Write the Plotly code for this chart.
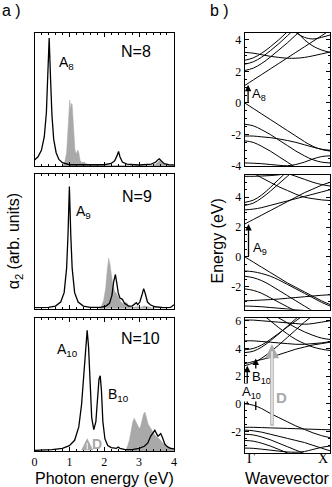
import plotly.graph_objects as go

# ---- panel a: absorption spectra (photon energy in eV, alpha_2 in arb. units) ----
e8_black = [0.00, 0.10, 0.20, 0.28, 0.34, 0.38, 0.42, 0.46, 0.50, 0.55, 0.62, 0.70, 0.80, 1.00, 1.50, 2.00,
            2.20, 2.30, 2.37, 2.41, 2.45, 2.52, 2.65, 3.00, 3.35, 3.48, 3.55, 3.58, 3.63, 3.72, 3.85, 4.00]
a8_black = [0.045, 0.07, 0.12, 0.22, 0.40, 0.65, 0.96, 0.65, 0.38, 0.20, 0.10, 0.05, 0.025, 0.01, 0.008, 0.01,
            0.02, 0.04, 0.08, 0.11, 0.07, 0.03, 0.015, 0.008, 0.015, 0.03, 0.05, 0.055, 0.04, 0.018, 0.01, 0.008]
e8_grey = [0.80, 0.86, 0.92, 0.96, 0.99, 1.01, 1.03, 1.05, 1.08, 1.10, 1.13, 1.16, 1.20, 1.24, 1.27, 1.31,
           1.36, 1.42, 1.47, 1.55, 1.70, 2.00, 2.30, 3.40, 3.50, 3.58, 3.66, 3.75, 4.00]
a8_grey = [0.0, 0.02, 0.10, 0.30, 0.46, 0.495, 0.42, 0.47, 0.46, 0.35, 0.20, 0.12, 0.09, 0.12, 0.10, 0.04,
           0.025, 0.03, 0.02, 0.01, 0.008, 0.005, 0.004, 0.004, 0.02, 0.04, 0.02, 0.004, 0.0]

e9_black = [0.00, 0.40, 0.60, 0.75, 0.85, 0.92, 0.96, 1.00, 1.04, 1.08, 1.15, 1.25, 1.40, 1.60, 1.90, 2.05,
            2.15, 2.22, 2.27, 2.32, 2.36, 2.40, 2.45, 2.52, 2.58, 2.70, 2.80, 2.88, 2.92, 2.96, 3.02, 3.08,
            3.13, 3.18, 3.24, 3.32, 3.45, 3.70, 3.90, 4.00]
a9_black = [0.008, 0.01, 0.02, 0.05, 0.12, 0.30, 0.55, 0.91, 0.55, 0.30, 0.12, 0.05, 0.02, 0.01, 0.01, 0.02,
            0.04, 0.10, 0.20, 0.255, 0.19, 0.12, 0.08, 0.07, 0.04, 0.02, 0.02, 0.04, 0.045, 0.03, 0.05, 0.10,
            0.15, 0.11, 0.05, 0.03, 0.015, 0.008, 0.01, 0.03]
e9_grey = [1.85, 1.92, 1.98, 2.04, 2.09, 2.13, 2.17, 2.21, 2.25, 2.30, 2.36, 2.42, 2.48, 2.55, 2.62, 2.66,
           2.72, 2.80, 2.95, 3.05, 3.15, 3.25, 3.35, 3.45]
a9_grey = [0.0, 0.02, 0.06, 0.15, 0.30, 0.375, 0.32, 0.22, 0.17, 0.13, 0.11, 0.08, 0.05, 0.035, 0.05, 0.04,
           0.015, 0.01, 0.015, 0.01, 0.02, 0.015, 0.005, 0.0]

e10_black = [0.00, 0.50, 0.80, 1.00, 1.15, 1.27, 1.35, 1.42, 1.47, 1.51, 1.55, 1.59, 1.64, 1.70, 1.76, 1.81,
             1.85, 1.885, 1.92, 1.96, 2.02, 2.10, 2.20, 2.35, 2.40, 2.45, 2.60, 2.80, 3.00, 3.15, 3.25, 3.33,
             3.40, 3.45, 3.50, 3.54, 3.58, 3.62, 3.67, 3.74, 3.82, 3.90, 4.00]
a10_black = [0.005, 0.01, 0.02, 0.04, 0.08, 0.18, 0.35, 0.60, 0.82, 0.905, 0.78, 0.50, 0.25, 0.16, 0.22, 0.40,
             0.54, 0.563, 0.45, 0.22, 0.09, 0.04, 0.025, 0.02, 0.03, 0.02, 0.01, 0.01, 0.02, 0.035, 0.06, 0.11,
             0.14, 0.155, 0.13, 0.11, 0.12, 0.13, 0.10, 0.05, 0.03, 0.02, 0.015]
e10_grey = [2.60, 2.66, 2.72, 2.77, 2.82, 2.86, 2.90, 2.95, 3.00, 3.04, 3.09, 3.13, 3.17, 3.21, 3.26, 3.31,
            3.37, 3.45, 3.52, 3.60, 3.69, 3.78, 3.88, 4.00]
a10_grey = [0.0, 0.03, 0.08, 0.16, 0.22, 0.245, 0.22, 0.19, 0.17, 0.18, 0.24, 0.28, 0.29, 0.25, 0.20, 0.18,
            0.15, 0.12, 0.10, 0.085, 0.055, 0.035, 0.025, 0.02]

# ---- panel b: band structures (Gamma -> X), energies in eV ----
k = [0.0, 0.1, 0.2, 0.3, 0.4, 0.5, 0.6, 0.7, 0.8, 0.9, 1.0]

bands_n8 = [
    [1.10, 1.45, 1.80, 2.15, 2.50, 2.85, 3.20, 3.55, 3.90, 4.25, 4.60],
    [3.20, 3.15, 3.05, 2.95, 2.88, 2.83, 2.83, 2.88, 2.98, 3.10, 3.22],
    [2.70, 2.85, 3.15, 3.55, 4.00, 4.50, 5.00, 5.50, 6.00, 6.50, 7.00],
    [2.45, 2.60, 2.90, 3.30, 3.75, 4.25, 4.75, 5.25, 5.75, 6.25, 6.75],
    [2.05, 2.20, 2.50, 2.90, 3.35, 3.80, 4.30, 4.80, 5.30, 5.80, 6.30],
    [6.00, 5.80, 5.60, 5.40, 5.20, 4.95, 4.55, 4.00, 3.60, 3.35, 3.20],
    [None, None, None, None, None, None, 4.45, 4.15, 4.05, 4.15, 4.30],
    [0.00, -0.35, -0.70, -1.05, -1.40, -1.75, -2.10, -2.45, -2.75, -2.95, -3.05],
    [-1.35, -1.45, -1.70, -2.00, -2.35, -2.70, -3.05, -3.35, -3.60, -3.75, -3.80],
    [-2.10, -2.10, -2.15, -2.20, -2.28, -2.38, -2.50, -2.65, -2.80, -2.93, -3.00],
    [-2.40, -2.50, -2.75, -3.05, -3.40, -3.75, -4.10, -4.40, -4.60, -4.70, -4.80],
    [-3.80, -3.82, -3.85, -3.90, -3.95, -3.98, -3.90, -3.75, -3.55, -3.40, -3.35],
]

bands_n9 = [
    [2.20, 2.50, 2.80, 3.10, 3.40, 3.70, 4.00, 4.30, 4.55, 4.80, 5.00],
    [3.15, 3.20, 3.30, 3.45, 3.60, 3.75, 3.90, 4.05, 4.20, 4.35, 4.50],
    [3.45, 3.60, 3.95, 4.40, 4.90, 5.40, 5.90, 6.40, 6.90, 7.40, 7.90],
    [3.65, 3.80, 4.15, 4.65, 5.20, 5.75, 6.30, 6.80, 7.30, 7.80, 8.30],
    [5.75, 5.60, 5.30, 5.00, 4.70, 4.45, 4.20, 4.00, 3.90, 3.82, 3.78],
    [5.40, 5.40, 5.42, 5.45, 5.50, 5.60, 5.70, 5.80, 5.90, 6.00, 6.10],
    [6.50, 6.40, 6.20, 6.00, 5.80, 5.60, 5.40, 5.20, 5.00, 4.85, 4.75],
    [0.00, -0.35, -0.70, -1.05, -1.40, -1.75, -2.05, -2.35, -2.65, -2.95, -3.20],
    [-0.95, -1.00, -1.12, -1.30, -1.55, -1.85, -2.15, -2.45, -2.75, -3.05, -3.30],
    [-1.30, -1.40, -1.60, -1.90, -2.25, -2.60, -2.95, -3.30, -3.65, -4.00, -4.30],
    [-2.15, -2.25, -2.45, -2.75, -3.05, -3.35, -3.65, -3.95, -4.20, -4.40, -4.50],
    [-2.95, -2.93, -2.90, -2.87, -2.83, -2.78, -2.73, -2.68, -2.63, -2.58, -2.55],
    [-3.30, -3.32, -3.35, -3.40, -3.45, -3.50, -3.55, -3.60, -3.65, -3.70, -3.70],
]

bands_n10 = [
    [2.90, 3.05, 3.20, 3.35, 3.55, 3.75, 3.95, 4.10, 4.25, 4.35, 4.45],
    [2.75, 2.95, 3.30, 3.75, 4.25, 4.80, 5.35, 5.90, 6.40, 6.90, 7.40],
    [3.70, 3.80, 4.10, 4.55, 5.05, 5.60, 6.15, 6.70, 7.20, 7.70, 8.20],
    [3.90, 4.00, 4.25, 4.65, 5.10, 5.55, 6.00, 6.45, 6.90, 7.30, 7.70],
    [4.55, 4.55, 4.50, 4.45, 4.40, 4.35, 4.30, 4.30, 4.35, 4.40, 4.50],
    [7.50, 7.00, 6.50, 6.00, 5.50, 5.05, 4.65, 4.35, 4.10, 3.95, 3.85],
    [7.80, 7.40, 7.00, 6.60, 6.20, 5.85, 5.50, 5.20, 4.95, 4.75, 4.65],
    [6.05, 6.05, 6.00, 5.95, 5.90, 5.85, 5.80, 5.75, 5.80, 5.90, 6.00],
    [0.00, -0.10, -0.35, -0.70, -1.00, -1.30, -1.60, -1.85, -2.10, -2.30, -2.45],
    [-1.70, -1.70, -1.72, -1.74, -1.76, -1.78, -1.80, -1.82, -1.84, -1.86, -1.88],
    [-1.90, -1.95, -2.05, -2.20, -2.35, -2.50, -2.65, -2.80, -3.00, -3.20, -3.40],
    [-2.20, -2.25, -2.40, -2.60, -2.85, -3.10, -3.35, -3.60, -3.85, -4.10, -4.30],
    [-2.65, -2.70, -2.85, -3.05, -3.30, -3.55, -3.80, -4.00, -4.20, -4.40, -4.50],
    [-3.20, -3.22, -3.28, -3.35, -3.42, -3.48, -3.50, -3.45, -3.30, -3.15, -3.05],
]

band_ranges = [[-4.0, 4.45], [-3.55, 5.5], [-3.55, 6.2]]
band_ticks = [[-4, -2, 0, 2, 4], [-2, 0, 2, 4], [-2, 0, 2, 4, 6]]
k_labels = ["Γ", "X"]

SANS = "Liberation Sans"
SERIF = "Liberation Serif"
GREY = "#a9a9a9"

fig = go.Figure()


def ax(n):
    return "" if n == 1 else str(n)


spectra = [(e8_grey, a8_grey, e8_black, a8_black),
           (e9_grey, a9_grey, e9_black, a9_black),
           (e10_grey, a10_grey, e10_black, a10_black)]
for i, (eg, ag, eb, ab) in enumerate(spectra):
    n = i + 1
    fig.add_trace(go.Scatter(x=eg, y=ag, mode="lines", fill="tozeroy", fillcolor=GREY,
                             line=dict(color=GREY, width=0.5), xaxis="x" + ax(n), yaxis="y" + ax(n)))
    fig.add_trace(go.Scatter(x=eb, y=ab, mode="lines", line=dict(color="black", width=1.3),
                             xaxis="x" + ax(n), yaxis="y" + ax(n)))

for i, bands in enumerate([bands_n8, bands_n9, bands_n10]):
    n = i + 4
    for b in bands:
        fig.add_trace(go.Scatter(x=k, y=b, mode="lines", line=dict(color="black", width=1, shape="spline"),
                                 xaxis="x" + ax(n), yaxis="y" + ax(n)))

rows_left = [[0.659, 0.933], [0.366, 0.642], [0.074, 0.348]]
rows_right = [[0.659, 0.933], [0.364, 0.641], [0.070, 0.347]]
layout = {}
for i in range(3):
    n = i + 1
    layout["xaxis" + ax(n)] = dict(
        domain=[0.104, 0.524], anchor="y" + ax(n), range=[0, 4], showline=True, linecolor="black",
        linewidth=1, mirror="allticks", ticks="inside", ticklen=4, tickcolor="black", dtick=1,
        minor=dict(dtick=0.2, ticks="inside", ticklen=2, tickcolor="black"), automargin=False,
        showgrid=False, zeroline=False, showticklabels=(i == 2),
        tickfont=dict(family=SERIF, size=12, color="black"))
    layout["yaxis" + ax(n)] = dict(
        domain=rows_left[i], anchor="x" + ax(n), range=[0, 1], showline=True, linecolor="black",
        linewidth=1, mirror=True, ticks="", showticklabels=False, showgrid=False, zeroline=False,
        automargin=False)
for i in range(3):
    n = i + 4
    layout["xaxis" + ax(n)] = dict(
        domain=[0.737, 0.994], anchor="y" + ax(n), range=[0, 1], showline=True, linecolor="black",
        linewidth=1, mirror=True, ticks="", showgrid=False, zeroline=False, automargin=False,
        showticklabels=False)
    layout["yaxis" + ax(n)] = dict(
        domain=rows_right[i], anchor="x" + ax(n), range=band_ranges[i], showline=True,
        linecolor="black", linewidth=1, mirror="allticks", ticks="inside", ticklen=4, tickcolor="black",
        tickvals=band_ticks[i], ticktext=[str(t) for t in band_ticks[i]], automargin=False,
        minor=dict(dtick=0.5, ticks="inside", ticklen=2, tickcolor="black"),
        showgrid=False, zeroline=False, tickfont=dict(family=SERIF, size=12, color="black"))

annotations = []


def txt(text, x, y, xref, yref, size=15, color="black", family=SANS, **kw):
    kw.setdefault("xanchor", "center")
    kw.setdefault("yanchor", "middle")
    annotations.append(dict(text=text, x=x, y=y, xref=xref, yref=yref, showarrow=False,
                            font=dict(family=family, size=size, color=color), **kw))


# panel a labels
txt("N=8", 2.9, 0.855, "x", "y", size=16)
txt("A<sub>8</sub>", 0.91, 0.77, "x", "y", size=14)
txt("N=9", 2.93, 0.835, "x2", "y2", size=16)
txt("A<sub>9</sub>", 1.41, 0.72, "x2", "y2", size=14)
txt("N=10", 3.04, 0.84, "x3", "y3", size=16)
txt("A<sub>10</sub>", 0.94, 0.76, "x3", "y3", size=14)
txt("B<sub>10</sub>", 2.41, 0.42, "x3", "y3", size=14)
# D arrow in panel a (hollow grey)
annotations.append(dict(x=1.51, y=0.095, ax=1.51, ay=0.0, xref="x3", yref="y3", axref="x3", ayref="y3",
                        text="", showarrow=True, arrowhead=2, arrowsize=0.8, arrowwidth=3, arrowcolor=GREY))
annotations.append(dict(x=1.51, y=0.06, ax=1.51, ay=0.0, xref="x3", yref="y3", axref="x3", ayref="y3",
                        text="", showarrow=True, arrowhead=0, arrowwidth=1, arrowcolor="white"))
txt("<b>D</b>", 1.8, 0.05, "x3", "y3", size=14, color=GREY)

# panel b arrows
for (xr, yr, kx, e0, e1) in [("x4", "y4", 0.04, -0.05, 1.15), ("x5", "y5", 0.045, -0.05, 2.2),
                            ("x6", "y6", 0.03, -0.05, 2.75), ("x6", "y6", 0.13, -0.55, 3.28)]:
    annotations.append(dict(x=kx, y=e1, ax=kx, ay=e0, xref=xr, yref=yr, axref=xr, ayref=yr, text="",
                            showarrow=True, arrowhead=2, arrowsize=1, arrowwidth=1.3, arrowcolor="black"))
txt("A<sub>8</sub>", 0.17, 0.55, "x4", "y4", size=13)
txt("A<sub>9</sub>", 0.18, 0.55, "x5", "y5", size=13)
txt("A<sub>10</sub>", 0.08, 0.85, "x6", "y6", size=13, bgcolor="white", borderpad=0)
txt("B<sub>10</sub>", 0.2, 1.9, "x6", "y6", size=13, bgcolor="white", borderpad=0)
# D arrow in panel b (hollow grey)
annotations.append(dict(x=0.32, y=4.3, ax=0.32, ay=-1.7, xref="x6", yref="y6", axref="x6", ayref="y6",
                        text="", showarrow=True, arrowhead=2, arrowsize=0.8, arrowwidth=3.5, arrowcolor=GREY))
annotations.append(dict(x=0.32, y=3.8, ax=0.32, ay=-1.6, xref="x6", yref="y6", axref="x6", ayref="y6",
                        text="", showarrow=True, arrowhead=0, arrowwidth=1.2, arrowcolor="white"))
txt("<b>D</b>", 0.43, 0.45, "x6", "y6", size=15, color=GREY)

# Gamma / X labels under the last band panel
txt(k_labels[0], 0.0, 0.058, "x6", "paper", size=14, family=SERIF, xanchor="left")
txt(k_labels[1], 1.0, 0.058, "x6", "paper", size=14, family=SERIF, xanchor="right")

# axis titles and panel tags
txt("a )", 0.0, 1.0, "paper", "paper", size=16, xanchor="left", yanchor="top")
txt("b )", 0.625, 1.0, "paper", "paper", size=16, xanchor="left", yanchor="top")
txt("α<sub>2</sub> (arb. units)", 0.043, 0.505, "paper", "paper", size=16, textangle=-90)
txt("Energy (eV)", 0.655, 0.505, "paper", "paper", size=16, textangle=-90)
txt("Photon energy (eV)", 0.314, -0.004, "paper", "paper", size=16, yanchor="bottom")
txt("Wavevector", 0.865, -0.004, "paper", "paper", size=16, yanchor="bottom")

fig.update_layout(**layout)
fig.update_layout(template="none", annotations=annotations, width=332, height=487, showlegend=False,
                  margin=dict(l=0, r=0, t=0, b=0, pad=0), plot_bgcolor="white", paper_bgcolor="white",
                  font=dict(family=SANS, color="black"))
fig.write_html("out.html", config={"displayModeBar": False},
               post_script="document.body.style.margin='0';document.body.style.overflow='hidden';")
